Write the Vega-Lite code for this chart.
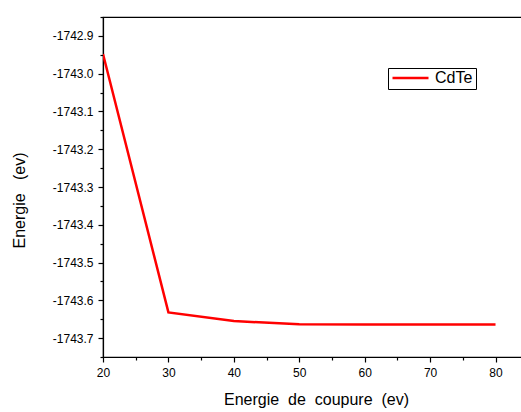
{
  "$schema": "https://vega.github.io/schema/vega-lite/v6.json",
  "autosize": {"type": "none"},
  "padding": {"left": 103, "top": 17, "right": 0, "bottom": 55},
  "width": 420,
  "height": 340,
  "config": {
    "font": "Liberation Sans",
    "view": {"stroke": "black", "strokeWidth": 1.2},
    "axis": {"domainColor": "black", "tickColor": "black", "labelColor": "black", "titleColor": "black", "grid": false, "labelFont": "Liberation Sans", "titleFont": "Liberation Sans", "titleFontWeight": "normal", "domainWidth": 1.2, "tickWidth": 1.2}
  },
  "data": {"values": [
    {"cutoff": 20, "energy": -1742.948, "series": "CdTe"},
    {"cutoff": 30, "energy": -1743.632, "series": "CdTe"},
    {"cutoff": 40, "energy": -1743.655, "series": "CdTe"},
    {"cutoff": 50, "energy": -1743.663, "series": "CdTe"},
    {"cutoff": 60, "energy": -1743.664, "series": "CdTe"},
    {"cutoff": 70, "energy": -1743.664, "series": "CdTe"},
    {"cutoff": 80, "energy": -1743.664, "series": "CdTe"}
  ]},
  "layer": [
    {
      "mark": {"type": "line", "strokeWidth": 2.5, "clip": true},
      "encoding": {
        "x": {"field": "cutoff", "type": "quantitative", "scale": {"domain": [20, 84.2], "nice": false, "zero": false},
          "axis": {"orient": "bottom", "values": [20, 30, 40, 50, 60, 70, 80], "tickSize": 5, "labelFontSize": 12, "labelPadding": 5, "title": "Energie\u00a0 de\u00a0 coupure\u00a0 (ev)", "titleFontSize": 16, "titlePadding": 13, "titleX": 213, "labelFlush": false}},
        "y": {"field": "energy", "type": "quantitative", "scale": {"domain": [-1743.75, -1742.85], "nice": false, "zero": false},
          "axis": {"orient": "left", "values": [-1743.7, -1743.6, -1743.5, -1743.4, -1743.3, -1743.2, -1743.1, -1743.0, -1742.9], "labelExpr": "replace(format(datum.value, '.1f'), '\u2212', '-')", "tickSize": 5, "labelFontSize": 12, "labelPadding": 5, "title": "Energie\u00a0 \u00a0(ev)", "titleFontSize": 16, "titleX": -84, "titleY": 183, "titleBaseline": "middle", "titleAlign": "center", "titleAngle": 270, "labelFlush": false}},
        "color": {"field": "series", "type": "nominal", "scale": {"range": ["#ff0000"]},
          "legend": {"orient": "none", "legendX": 285, "legendY": 51, "title": null, "strokeColor": "black", "padding": 3, "clipHeight": 14, "symbolType": "stroke", "symbolSize": 1296, "symbolStrokeWidth": 2.5, "labelFontSize": 16, "labelFont": "Liberation Sans", "labelColor": "black", "labelOffset": 5}}
      }
    },
    {
      "mark": {"type": "point", "opacity": 0},
      "encoding": {
        "x": {"field": "cutoff", "type": "quantitative",
          "axis": {"orient": "bottom", "values": [25, 35, 45, 55, 65, 75], "tickSize": 3, "labels": false, "title": null, "domain": false}},
        "y": {"field": "energy", "type": "quantitative",
          "axis": {"orient": "left", "values": [-1743.75, -1743.65, -1743.55, -1743.45, -1743.35, -1743.25, -1743.15, -1743.05, -1742.95, -1742.85], "tickSize": 3, "labels": false, "title": null, "domain": false}}
      }
    }
  ],
  "resolve": {"axis": {"x": "independent", "y": "independent"}}
}
